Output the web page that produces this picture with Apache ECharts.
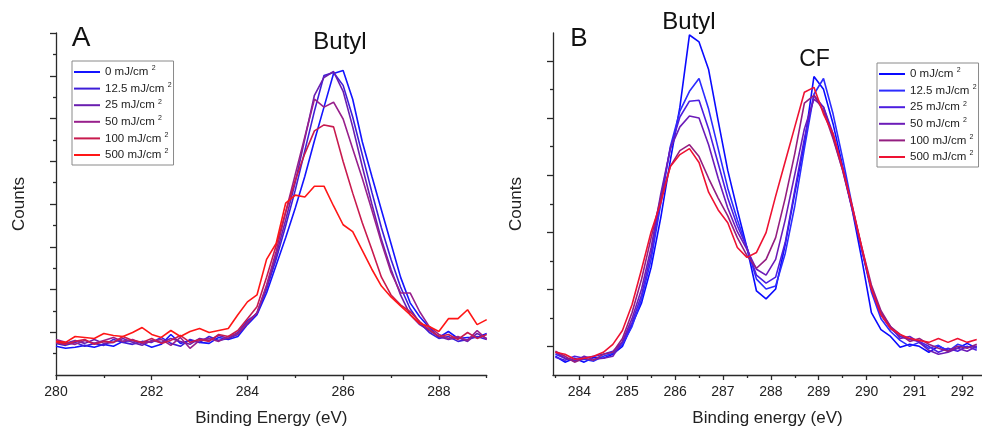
<!DOCTYPE html>
<html>
<head>
<meta charset="utf-8">
<script src="https://cdn.jsdelivr.net/npm/echarts@6/dist/echarts.min.js"></script>
<style>
html,body{margin:0;padding:0;background:#fff}
#main{width:982px;height:432px}
</style>
</head>
<body>
<div id="main"></div>
<script>
var font = '"Liberation Sans", Arial, sans-serif';

// legend names (same doses in both panels)
var doses = ['0 mJ/cm²', '12.5 mJ/cm²', '25 mJ/cm²', '50 mJ/cm²', '100 mJ/cm²', '500 mJ/cm²'];
var colorsA = ['#1414ff', '#3e1ed8', '#6a1eb0', '#98208c', '#c81a4e', '#ff1616'];
var colorsB = ['#0a0aff', '#2c2cff', '#4c1ee0', '#6c1cb8', '#941e80', '#ee1232'];

// panel A : binding energy (eV)
var energyA = [280,280.2,280.4,280.6,280.8,281,281.2,281.4,281.6,281.8,282,282.2,282.4,282.6,282.8,283,283.2,283.4,283.6,283.8,
  284,284.2,284.4,284.6,284.8,285,285.2,285.4,285.6,285.8,286,286.2,286.4,286.6,286.8,287,287.2,287.4,287.6,287.8,288,288.2,288.4,288.6,288.8,289];
// panel A counts (arb. units)
var countsA0 = [29,27,28,30,28,31,29,34,35,32,28,31,41,32,35,33,32,38,36,39,51,61,83,111,139,169,201,237,271,305,308,279,236,201,167,133,99,73,59,48,38,44,37,38,38,42];
var countsA1 = [32,30,33,29,32,30,36,33,31,34,33,38,32,29,36,33,39,35,37,43,55,62,87,117,151,187,227,267,303,306,293,261,223,185,149,117,89,67,53,43,37,39,34,36,39,36];
var countsA2 = [34,32,35,32,36,32,33,37,33,30,35,33,37,34,31,37,35,40,37,41,52,63,89,121,157,195,239,283,301,307,287,251,211,173,137,107,81,61,51,45,39,36,38,34,42,37];
var countsA3 = [36,33,31,35,32,35,38,34,36,32,34,36,30,38,27,35,37,34,39,42,53,63,91,125,165,203,241,279,271,276,259,229,199,167,134,104,83,83,64,49,41,37,39,35,45,36];
var countsA4 = [33,31,34,36,31,34,33,39,35,33,37,32,35,40,33,36,34,41,39,45,57,69,99,131,165,197,224,247,253,251,216,184,154,127,99,81,71,64,54,46,39,41,36,43,37,41];
var countsA5 = [34,33,39,38,37,42,40,39,43,48,41,38,45,39,44,47,43,45,47,61,74,81,117,133,174,182,180,191,191,171,152,145,126,107,90,79,70,61,52,49,44,57,57,66,51,56];

// panel B : binding energy (eV)
var energyB = [283.5,283.7,283.9,284.1,284.3,284.5,284.7,284.9,285.1,285.3,285.5,285.7,285.9,286.1,286.3,286.5,286.7,286.9,287.1,287.3,
  287.5,287.7,287.9,288.1,288.3,288.5,288.7,288.9,289.1,289.3,289.5,289.7,289.9,290.1,290.3,290.5,290.7,290.9,291.1,291.3,291.5,291.7,291.9,292.1,292.3];
var countsB0 = [-10,-16,-12,-16,-11,-12,-8,0,22,44,80,130,188,242,315,308,280,228,178,138,100,56,48,58,103,155,205,273,260,225,182,138,88,34,17,10,-1,2,0,-6,0,-4,-2,3,-2];
var countsB1 = [-8,-12,-14,-13,-15,-10,-7,2,20,48,88,144,202,238,258,271,240,200,160,128,100,68,58,61,94,142,200,255,271,235,190,142,98,55,28,15,6,0,4,-2,1,-5,2,-1,0];
var countsB2 = [-11,-14,-10,-12,-10,-8,-5,4,24,52,94,150,200,232,248,249,220,185,150,122,100,72,64,70,105,158,210,254,242,215,180,140,98,58,32,18,10,7,5,0,-6,-2,-5,0,-4];
var countsB3 = [-6,-12,-15,-10,-13,-12,-10,5,28,58,100,154,200,222,233,231,204,170,140,116,98,78,72,88,128,174,220,250,242,212,178,138,98,58,34,20,8,10,4,-4,-8,-6,-2,-5,0];
var countsB4 = [-5,-10,-16,-12,-14,-8,-6,8,34,68,110,150,182,198,204,192,170,150,132,110,92,79,88,110,150,195,246,254,238,210,178,140,100,62,36,20,12,5,8,2,-2,-5,0,-2,2];
var countsB5 = [-6,-8,-13,-12,-10,-6,2,16,42,78,116,145,182,194,200,186,156,138,125,100,90,95,115,152,187,222,257,262,235,215,180,142,100,58,32,18,12,8,6,4,8,4,8,4,7];

// tick values
var ticksAx = [280, 282, 284, 286, 288];
var minorAx = [281, 283, 285, 287, 289];
var ticksBx = [284, 285, 286, 287, 288, 289, 290, 291, 292];
var minorBx = [283.5, 284.5, 285.5, 286.5, 287.5, 288.5, 289.5, 290.5, 291.5];
var ticksAy = [43.25, 86.5, 129.75, 173, 216.25, 259.5, 302.75, 346];
var minorAy = [21.625, 64.875, 108.125, 151.375, 194.625, 237.875, 281.125, 324.375];
var ticksBy = [0, 57.7, 115.4, 173.1, 230.8, 288.5];
var minorBy = [28.85, 86.55, 144.25, 201.95, 259.65];

var myChart = echarts.init(document.getElementById('main'));

var axisColor = '#2a2a2a';

function xAxisOf(grid, min, max, ticks, len, main, name) {
    return {
        type: 'value', gridIndex: grid, min: min, max: max, position: 'bottom',
        axisLine: {show: main, onZero: false, lineStyle: {color: axisColor, width: 1.3}},
        axisTick: {show: true, length: len, customValues: ticks, lineStyle: {color: axisColor, width: 1.3}},
        axisLabel: {show: main, customValues: ticks, margin: 10, fontSize: 14, color: '#222', fontFamily: font},
        splitLine: {show: false},
        name: main ? name : '',
        nameLocation: 'middle',
        nameGap: 35,
        nameTextStyle: {fontSize: 17, color: '#222', fontFamily: font}
    };
}

function yAxisOf(grid, min, max, ticks, len, main) {
    return {
        type: 'value', gridIndex: grid, min: min, max: max, position: 'left',
        axisLine: {show: main, onZero: false, lineStyle: {color: axisColor, width: 1.3}},
        axisTick: {show: true, length: len, customValues: ticks, lineStyle: {color: axisColor, width: 1.3}},
        axisLabel: {show: false},
        splitLine: {show: false},
        name: main ? 'Counts' : '',
        nameLocation: 'middle',
        nameGap: 28,
        nameTextStyle: {fontSize: 17, color: '#222', fontFamily: font}
    };
}

function lineOf(name, counts, energy, color, xi, yi) {
    var pts = [];
    for (var i = 0; i < energy.length; i++) {
        pts.push([energy[i], counts[i]]);
    }
    return {
        name: name, type: 'line', xAxisIndex: xi, yAxisIndex: yi,
        data: pts, symbol: 'none', showSymbol: false,
        lineStyle: {color: color, width: 1.6},
        itemStyle: {color: color}
    };
}

var namesB = doses.map(function (d) { return d + '\u200b'; });
var countsA = [countsA0, countsA1, countsA2, countsA3, countsA4, countsA5];
var countsB = [countsB0, countsB1, countsB2, countsB3, countsB4, countsB5];

var series = [];
doses.forEach(function (d, i) {
    series.push(lineOf(d, countsA[i], energyA, colorsA[i], 0, 0));
});
namesB.forEach(function (d, i) {
    series.push(lineOf(d, countsB[i], energyB, colorsB[i], 2, 2));
});

function legendOf(names, left, top) {
    return {
        data: names, orient: 'vertical', left: left, top: top,
        icon: 'rect', itemWidth: 26, itemHeight: 2, itemGap: 3.6,
        padding: [4, 2, 4, 2],
        borderColor: '#8a8a8a', borderWidth: 1,
        formatter: function (n) {
            return '{a|' + n.replace('\u200b', '').replace('²', ' ') + '}{s|2}';
        },
        textStyle: {
            rich: {
                a: {fontSize: 11.5, lineHeight: 14, color: '#222', fontFamily: font},
                s: {fontSize: 7, lineHeight: 8, verticalAlign: 'top', color: '#222', fontFamily: font}
            }
        }
    };
}

function label(text, x, y, size) {
    return {
        type: 'text', x: x, y: y,
        style: {text: text, font: size + 'px ' + font, fill: '#111', textAlign: 'center', textVerticalAlign: 'middle'}
    };
}

option = {
    animation: false,
    backgroundColor: '#fff',
    textStyle: {fontFamily: font},
    grid: [
        {left: 56, top: 33, width: 430.7, height: 346},
        {left: 553, top: 33, width: 429, height: 346}
    ],
    xAxis: [
        xAxisOf(0, 280, 289, ticksAx, 5, true, 'Binding Energy (eV)'),
        xAxisOf(0, 280, 289, minorAx, 3, false, ''),
        xAxisOf(1, 283.45, 292.41, ticksBx, 5, true, 'Binding energy (eV)'),
        xAxisOf(1, 283.45, 292.41, minorBx, 3, false, '')
    ],
    yAxis: [
        yAxisOf(0, 0, 346, ticksAy, 6, true),
        yAxisOf(0, 0, 346, minorAy, 3, false),
        yAxisOf(1, -29, 317, ticksBy, 6, true),
        yAxisOf(1, -29, 317, minorBy, 3, false)
    ],
    legend: [legendOf(doses, 72, 61), legendOf(namesB, 877, 63)],
    graphic: [
        label('A', 81, 38, 28),
        label('Butyl', 340, 42, 24),
        label('B', 579, 39, 26),
        label('Butyl', 689, 22, 24),
        label('CF', 814.5, 60, 23)
    ],
    series: series
};
myChart.setOption(option);
</script>
</body>
</html>
